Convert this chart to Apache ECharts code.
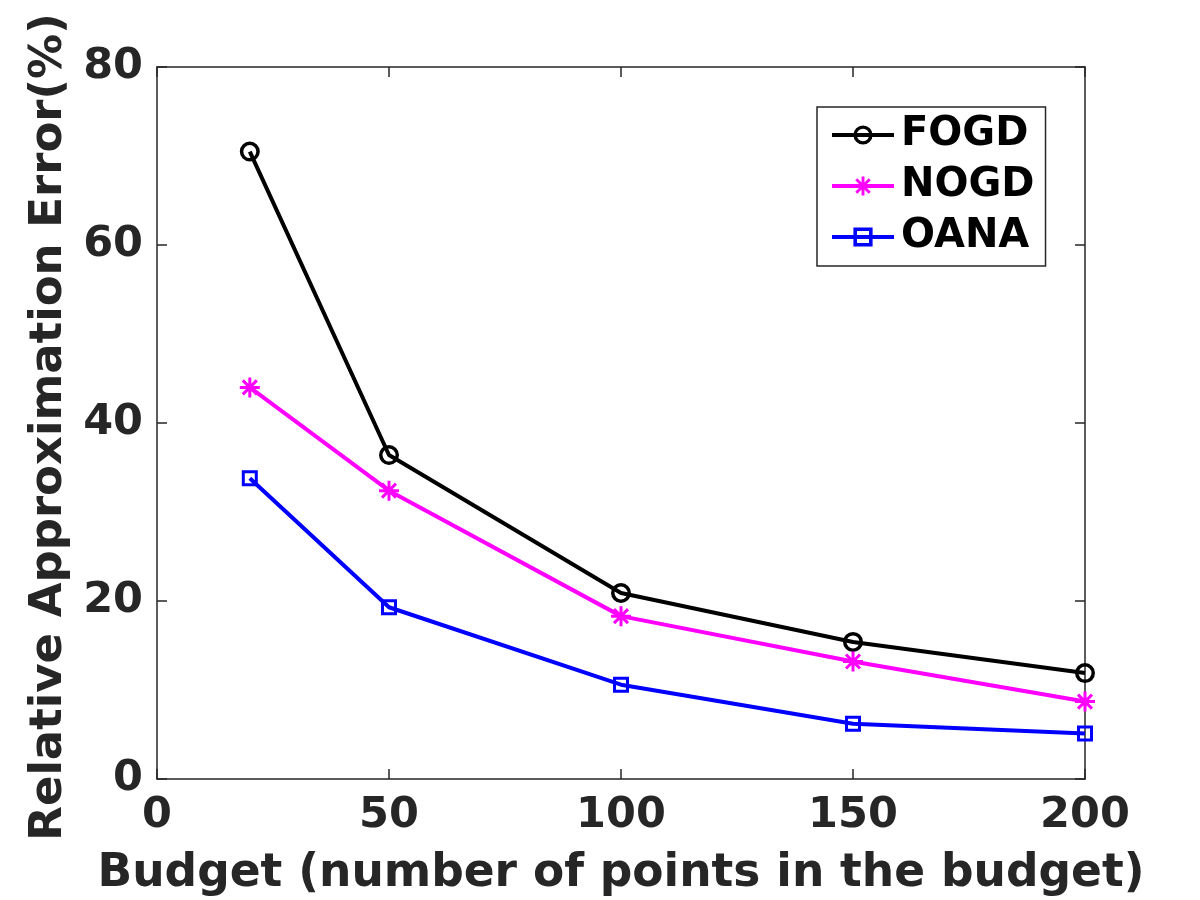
<!DOCTYPE html>
<html>
<head>
<meta charset="utf-8">
<script src="https://cdn.jsdelivr.net/npm/echarts@6/dist/echarts.min.js"></script>
<style>
  html, body { margin: 0; padding: 0; background: #fff; }
  #main { width: 1200px; height: 900px; }
</style>
</head>
<body>
<div id="main"></div>
<script>
// budget sizes on the x axis
var budgets = [20, 50, 100, 150, 200];
// relative approximation error (%)
var fogd = [70.5, 36.4, 20.9, 15.4, 11.9];
var nogd = [44.0, 32.4, 18.3, 13.2, 8.7];
var oana = [33.8, 19.3, 10.6, 6.2, 5.1];

var seriesNames = ['FOGD', 'NOGD', 'OANA'];
var colorList = ['#000000', '#ff00ff', '#0000ff'];

// unfilled markers as in matlab: ring, asterisk, hollow square
var ring = 'path://M0,10 A10,10 0 1,1 20,10 A10,10 0 1,1 0,10 Z ' +
	'M3.5,10 A6.5,6.5 0 1,0 16.5,10 A6.5,6.5 0 1,0 3.5,10 Z';
var asterisk = 'path://M0,8.5 L20,8.5 L20,11.5 L0,11.5 Z ' +
	'M8.5,0 L11.5,0 L11.5,20 L8.5,20 Z ' +
	'M4.06,1.94 L18.06,15.94 L15.94,18.06 L1.94,4.06 Z ' +
	'M15.94,1.94 L18.06,4.06 L4.06,18.06 L1.94,15.94 Z';
var hollowSquare = 'path://M0,0 L16,0 L16,16 L0,16 Z M3,3 L3,13 L13,13 L13,3 Z';

var axisColor = '#262626';
var fontFamily = '"DejaVu Sans", sans-serif';

function pairs(xs, ys) {
	var out = [];
	for (var i = 0; i < xs.length; i++) {
		out.push([xs[i], ys[i]]);
	}
	return out;
}

// box axes: same scale, ticks pointing inwards
function boxAxis(position, isX) {
	return {
		type: 'value',
		position: position,
		min: 0,
		max: isX ? 200 : 80,
		interval: isX ? 50 : 20,
		splitLine: { show: false },
		axisLine: { show: true, onZero: false, lineStyle: { color: axisColor, width: 1.5 } },
		axisTick: { show: true, inside: true, length: 10, lineStyle: { color: axisColor, width: 1.5 } },
		axisLabel: { show: false }
	};
}

var myChart = echarts.init(document.getElementById('main'));

var xBottom = boxAxis('bottom', true);
xBottom.axisLabel = {
	show: true, margin: 15, color: axisColor,
	fontFamily: fontFamily, fontWeight: 'bold', fontSize: 43
};
xBottom.name = 'Budget (number of points in the budget)';
xBottom.nameLocation = 'middle';
xBottom.nameGap = 72;
xBottom.nameTextStyle = { color: axisColor, fontFamily: fontFamily, fontWeight: 'bold', fontSize: 45.5 };

var yLeft = boxAxis('left', false);
yLeft.axisLabel = {
	show: true, margin: 14, color: axisColor,
	fontFamily: fontFamily, fontWeight: 'bold', fontSize: 43
};
yLeft.name = 'Relative Approximation Error(%)';
yLeft.nameLocation = 'middle';
yLeft.nameGap = 84;
yLeft.nameTextStyle = {
	color: axisColor, fontFamily: fontFamily, fontWeight: 'bold', fontSize: 45,
	padding: [0, 8, 0, 0]
};

var option = {
	backgroundColor: '#ffffff',
	animation: false,
	grid: { left: 157, right: 115, top: 67, bottom: 121, containLabel: false, outerBoundsMode: 'none' },
	legend: {
		left: 817,
		top: 107,
		orient: 'vertical',
		backgroundColor: '#ffffff',
		borderColor: axisColor,
		borderWidth: 1.5,
		borderRadius: 0,
		padding: [8, 11, 9, 13],
		itemGap: 11,
		itemWidth: 62,
		itemHeight: 24,
		lineStyle: { width: 4 },
		textStyle: { color: '#000000', fontFamily: fontFamily, fontWeight: 'bold', fontSize: 40, padding: [0, 0, 0, 2] },
		data: seriesNames
	},
	xAxis: [xBottom, boxAxis('top', true)],
	yAxis: [yLeft, boxAxis('right', false)],
	series: [
		{
			name: seriesNames[0], type: 'line', data: pairs(budgets, fogd),
			symbol: ring, symbolSize: 20,
			lineStyle: { color: colorList[0], width: 4 },
			itemStyle: { color: colorList[0], borderWidth: 0 }
		},
		{
			name: seriesNames[1], type: 'line', data: pairs(budgets, nogd),
			symbol: asterisk, symbolSize: 20,
			lineStyle: { color: colorList[1], width: 4 },
			itemStyle: { color: colorList[1], borderWidth: 0 }
		},
		{
			name: seriesNames[2], type: 'line', data: pairs(budgets, oana),
			symbol: hollowSquare, symbolSize: 16,
			lineStyle: { color: colorList[2], width: 4 },
			itemStyle: { color: colorList[2], borderWidth: 0 }
		}
	]
};

myChart.setOption(option, true);
</script>
</body>
</html>
